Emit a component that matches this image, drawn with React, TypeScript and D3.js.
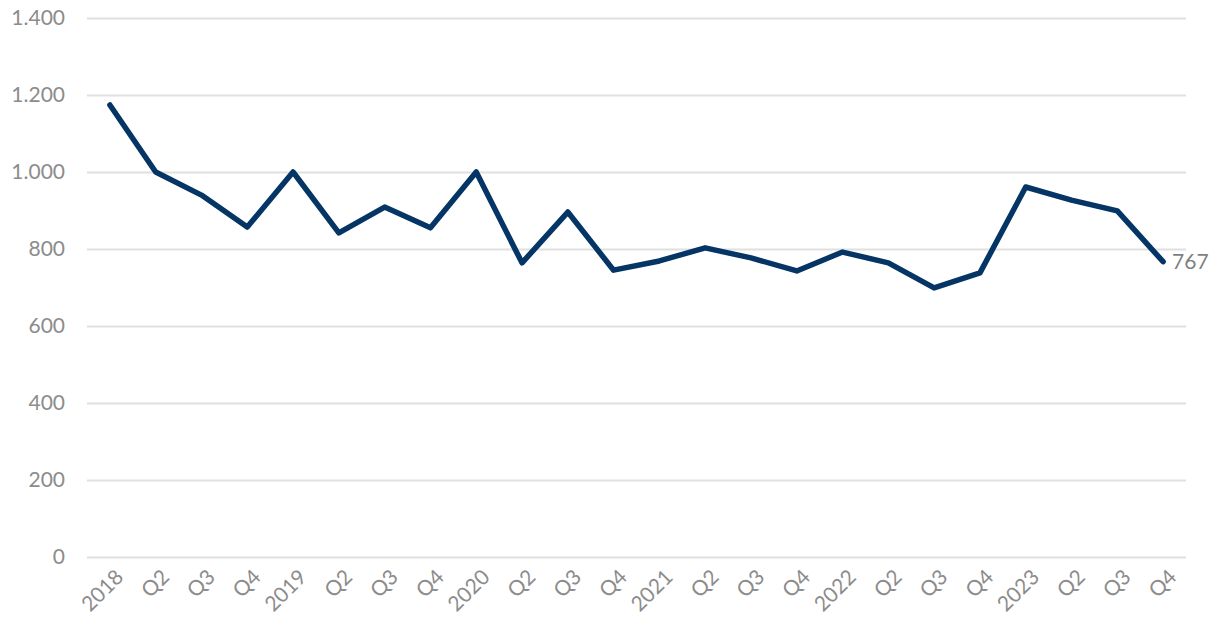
import React, { useEffect, useRef } from "react";
import { axisBottom, axisLeft, line, scaleLinear, scalePoint, select } from "d3";

const WIDTH = 1210;
const HEIGHT = 627;
const LEFT = 87;
const RIGHT = 1186;
const TOP = 18;
const BOTTOM = 557;
const LINE_COLOR = "#043565";
const TEXT_COLOR = "#8c8c8c";
const FONT = "Lato, 'Open Sans', sans-serif";
const FONT_SIZE = 21;

const categories = [
  "2018", "Q2", "Q3", "Q4",
  "2019", "Q2", "Q3", "Q4",
  "2020", "Q2", "Q3", "Q4",
  "2021", "Q2", "Q3", "Q4",
  "2022", "Q2", "Q3", "Q4",
  "2023", "Q2", "Q3", "Q4",
];
const values = [
  1174, 1000, 940, 857,
  1000, 842, 909, 855,
  1000, 764, 896, 745,
  769, 803, 777, 743,
  792, 764, 699, 738,
  961, 927, 899, 767,
];
const yTicks = [0, 200, 400, 600, 800, 1000, 1200, 1400];

const fmt = (v: number) => v.toLocaleString("de-DE");

export default function App() {
  const svgRef = useRef<SVGSVGElement>(null);

  useEffect(() => {
    const svg = select(svgRef.current);
    svg.selectAll("*").remove();

    const keys = categories.map((_, i) => String(i));
    const x = scalePoint<string>().domain(keys).range([LEFT, RIGHT]).padding(0.5);
    const y = scaleLinear().domain([0, 1400]).range([BOTTOM, TOP]);

    // horizontal grid + y labels
    const yAxis = svg
      .append("g")
      .attr("transform", `translate(${LEFT},0)`)
      .call(axisLeft(y).tickValues(yTicks).tickSize(-(RIGHT - LEFT)).tickPadding(22).tickFormat(d => fmt(+d)));
    yAxis.select(".domain").remove();
    yAxis.selectAll("line").attr("stroke", "#e0e0e0").attr("stroke-width", 2);
    yAxis
      .selectAll("text")
      .attr("fill", TEXT_COLOR)
      .attr("font-size", FONT_SIZE)
      .attr("font-family", FONT);

    // x labels, rotated
    const xAxis = svg
      .append("g")
      .attr("transform", `translate(0,${BOTTOM})`)
      .call(axisBottom(x).tickSize(0).tickFormat(d => categories[+d]));
    xAxis.select(".domain").remove();
    xAxis
      .selectAll("text")
      .attr("fill", TEXT_COLOR)
      .attr("font-size", FONT_SIZE)
      .attr("font-family", FONT)
      .attr("text-anchor", "end")
      .attr("dy", "0.35em")
      .attr("transform", "translate(7,14) rotate(-45)");

    const lineFunc = line<number>()
      .x((_, i) => x(String(i)) as number)
      .y(d => y(d));

    svg
      .append("path")
      .attr("d", lineFunc(values))
      .attr("fill", "none")
      .attr("stroke", LINE_COLOR)
      .attr("stroke-width", 5.5)
      .attr("stroke-linejoin", "round")
      .attr("stroke-linecap", "round");

    const last = values.length - 1;
    svg
      .append("text")
      .attr("x", (x(String(last)) as number) + 9)
      .attr("y", y(values[last]))
      .attr("dy", "0.35em")
      .attr("fill", "#7f7f7f")
      .attr("font-size", FONT_SIZE)
      .attr("font-family", FONT)
      .text(fmt(values[last]));
  }, []);

  return (
    <svg
      ref={svgRef}
      width={WIDTH}
      height={HEIGHT}
      style={{ position: "absolute", left: 0, top: 0, background: "#fff" }}
    />
  );
}
